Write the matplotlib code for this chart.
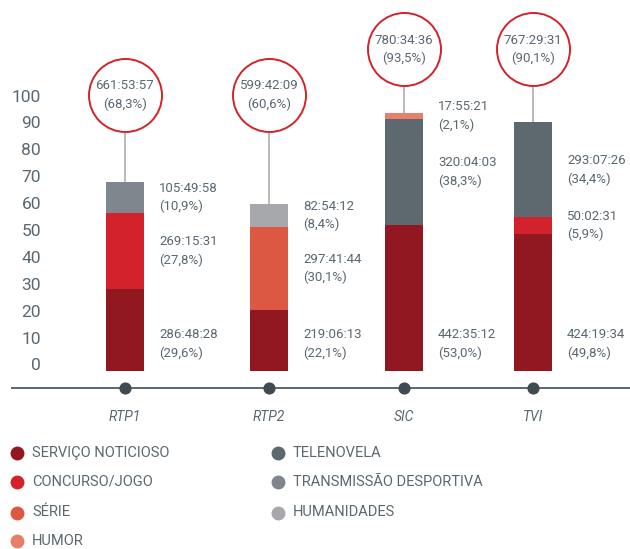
import numpy as np
import matplotlib
matplotlib.use("Agg")
import matplotlib.pyplot as plt
import matplotlib.transforms as mtransforms

plt.rcParams['font.family'] = ['Roboto', 'DejaVu Sans']

# --- dados ---
channels = ["RTP1", "RTP2", "SIC", "TVI"]
# ordem de empilhamento
stack_cats = ["SERVIÇO NOTICIOSO", "CONCURSO/JOGO", "SÉRIE", "TELENOVELA",
              "HUMOR", "TRANSMISSÃO DESPORTIVA", "HUMANIDADES"]
pct = {
    "SERVIÇO NOTICIOSO":      [29.6, 22.1, 53.0, 49.8],
    "CONCURSO/JOGO":          [27.8, 0.0, 0.0, 5.9],
    "SÉRIE":                  [0.0, 30.1, 0.0, 0.0],
    "TELENOVELA":             [0.0, 0.0, 38.3, 34.4],
    "HUMOR":                  [0.0, 0.0, 2.1, 0.0],
    "TRANSMISSÃO DESPORTIVA": [10.9, 0.0, 0.0, 0.0],
    "HUMANIDADES":            [0.0, 8.4, 0.0, 0.0],
}
times = {
    "SERVIÇO NOTICIOSO":      ["286:48:28", "219:06:13", "442:35:12", "424:19:34"],
    "CONCURSO/JOGO":          ["269:15:31", "", "", "50:02:31"],
    "SÉRIE":                  ["", "297:41:44", "", ""],
    "TELENOVELA":             ["", "", "320:04:03", "293:07:26"],
    "HUMOR":                  ["", "", "17:55:21", ""],
    "TRANSMISSÃO DESPORTIVA": ["105:49:58", "", "", ""],
    "HUMANIDADES":            ["", "82:54:12", "", ""],
}
total_time = ["661:53:57", "599:42:09", "780:34:36", "767:29:31"]
total_pct = ["68,3%", "60,6%", "93,5%", "90,1%"]

legend_cats = ["SERVIÇO NOTICIOSO", "CONCURSO/JOGO", "SÉRIE", "HUMOR",
               "TELENOVELA", "TRANSMISSÃO DESPORTIVA", "HUMANIDADES"]
colors = {
    "SERVIÇO NOTICIOSO": "#911820",
    "CONCURSO/JOGO": "#d3222b",
    "SÉRIE": "#dc5843",
    "HUMOR": "#e6806a",
    "TELENOVELA": "#5e686f",
    "TRANSMISSÃO DESPORTIVA": "#7f868d",
    "HUMANIDADES": "#a6a8ab",
}

txt_col = "#5b6770"

# --- figura ---
W, H = 630, 549
fig = plt.figure(figsize=(W / 100, H / 100), dpi=100)
# eixo em pixeis: x de 12 a 630, y de 0 a 388 (a partir do topo)
ax = fig.add_axes([12 / W, (H - 388) / H, (W - 12) / W, 388 / H])

slot_px = [125, 269, 404, 533]   # centro de cada barra (px)
px_per_y = 2.76
ax.set_xlim(12, 630)
ymin = -17 / px_per_y
ax.set_ylim(ymin, 371 / px_per_y)

x = np.array(slot_px, dtype=float)
bw = 38
bottom = np.zeros(len(channels))
for cat in stack_cats:
    vals = np.array(pct[cat])
    ax.bar(x, vals, bw, bottom=bottom, color=colors[cat], zorder=3)
    for i, v in enumerate(vals):
        if v <= 0:
            continue
        if bottom[i] == 0:
            ly = 9.8
        else:
            ly = bottom[i] + v / 2
        ax.text(x[i] + 34, ly, f"{times[cat][i]}\n({v:.1f}%)".replace(".", ","),
                ha="left", va="center", fontsize=9.5, color=txt_col,
                linespacing=1.5)
    bottom += vals

# circulos com totais
for i in range(len(channels)):
    cy = 100 if bottom[i] < 85 else 116.5
    ax.plot([x[i], x[i]], [bottom[i], cy], color="#b5b5b5", lw=1.3, zorder=2)
    ax.scatter([x[i]], [cy], s=(73 * 0.72) ** 2, facecolor="white",
               edgecolor="#d3222b", linewidth=1.4, zorder=4)
    ax.text(x[i], cy, f"{total_time[i]}\n({total_pct[i]})", ha="center",
            va="center", fontsize=9.5, color=txt_col, linespacing=1.5, zorder=5)

# eixo horizontal e pontos
for s in ["top", "right", "left"]:
    ax.spines[s].set_visible(False)
ax.spines["bottom"].set_color("#5b6770")
ax.spines["bottom"].set_linewidth(1.4)
ax.scatter(x, np.full(len(x), ymin), s=60, color="#3e4b53", zorder=6, clip_on=False)

ax.set_xticks(x)
ax.set_xticklabels(channels, fontstyle="italic", fontsize=10, color=txt_col)
yt = np.arange(0, 101, 10)
ax.set_yticks(yt)
ax.set_yticklabels([str(v) for v in yt], fontsize=12.5, color=txt_col)
ax.tick_params(axis="x", length=0, pad=16)
ax.tick_params(axis="y", length=0, pad=-29 * 0.72)
# os rotulos do eixo y no original ficam um pouco mais juntos
for v, lab in zip(yt, ax.get_yticklabels()):
    dy = (6.5 - 0.07 * v) / 100
    lab.set_transform(lab.get_transform() +
                      mtransforms.ScaledTranslation(0, dy, fig.dpi_scale_trans))

# legenda
lax = fig.add_axes([0, 0, 1, 1])
lax.set_xlim(0, W)
lax.set_ylim(H, 0)
lax.axis("off")
rows = [453, 482, 512.5, 541]
for k, cat in enumerate(legend_cats):
    col = 0 if k < 4 else 1
    r = k if k < 4 else k - 4
    mx = 17 if col == 0 else 278
    lax.scatter([mx], [rows[r]], s=(12.5 * 0.72) ** 2, color=colors[cat])
    lax.text(mx + 15, rows[r], cat, ha="left", va="center", fontsize=10.5,
             color=txt_col)

fig.savefig("out.png", dpi=100)
